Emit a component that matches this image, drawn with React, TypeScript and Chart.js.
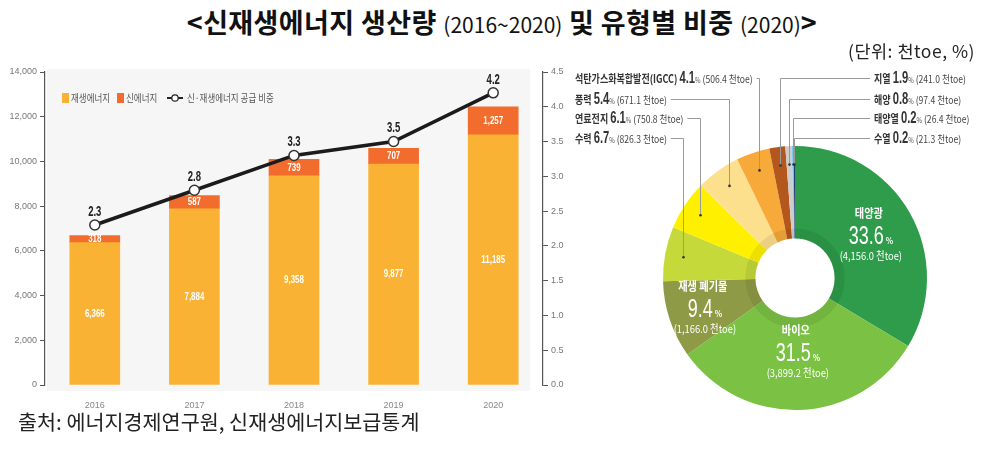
import React, { useEffect, useRef } from 'react';
import { Chart, registerables } from 'chart.js';

Chart.register(...registerables);

// ---------- data ----------
const years = ['2016', '2017', '2018', '2019', '2020'];
const renewable = [6366, 7884, 9358, 9877, 11185];
const newEnergy = [318, 587, 739, 707, 1257];
const shareRatio = [2.3, 2.8, 3.3, 3.5, 4.2];

const typeNames = ['태양광', '바이오', '재생 폐기물', '수력', '연료전지', '풍력', '석탄가스화복합발전(IGCC)', '지열', '해양', '태양열', '수열'];
const typeValues = [4156.0, 3899.2, 1166.0, 826.3, 750.8, 671.1, 506.4, 241.0, 97.4, 26.4, 21.3];
const typePercents = [33.6, 31.5, 9.4, 6.7, 6.1, 5.4, 4.1, 1.9, 0.8, 0.2, 0.2];

// ---------- styles ----------
const typeColors = ['#2E9C4A', '#7BC244', '#8E9A45', '#C6D93B', '#FFF000', '#FDE08D', '#F7A93A', '#B4571D', '#CDCDCD', '#7CC8EA', '#1F3F73'];
const NUM = "'Liberation Sans', Arial, sans-serif";
const KR = "'Noto Sans CJK KR', 'Noto Sans', sans-serif";
const C_RENEW = '#F9B233';
const C_NEW = '#F26C2D';

const fmt0 = (v: number) => v.toLocaleString('en-US');
const fmt1 = (v: number) => v.toLocaleString('en-US', { minimumFractionDigits: 1, maximumFractionDigits: 1 });

// draw horizontally condensed text; returns drawn width
function cText(ctx: any, text: string, x: number, y: number, font: string, sx: number, align: string) {
  ctx.font = font;
  const w = ctx.measureText(text).width * sx;
  let left = x;
  if (align === 'center') left = x - w / 2;
  else if (align === 'right') left = x - w;
  ctx.save();
  ctx.translate(left, y);
  ctx.scale(sx, 1);
  ctx.textAlign = 'left';
  ctx.fillText(text, 0, 0);
  ctx.restore();
  return w;
}
function cWidth(ctx: any, text: string, font: string, sx: number) {
  ctx.font = font;
  return ctx.measureText(text).width * sx;
}

const barPlugin = {
  id: 'barDecor',
  beforeDraw(chart: any) {
    const { ctx, chartArea: a } = chart;
    ctx.save();
    ctx.fillStyle = '#f6f6f6';
    ctx.fillRect(a.left + 2, a.top - 3, a.right - 13 - (a.left + 2), a.bottom + 6 - (a.top - 3));
    ctx.restore();
  },
  afterDatasetsDraw(chart: any) {
    const ctx = chart.ctx;
    const m0 = chart.getDatasetMeta(0);
    const m1 = chart.getDatasetMeta(1);
    const m2 = chart.getDatasetMeta(2);
    ctx.save();
    ctx.textBaseline = 'middle';
    ctx.fillStyle = '#ffffff';
    m0.data.forEach((el: any, i: number) => {
      cText(ctx, fmt0(renewable[i]), el.x, (el.y + el.base) / 2, `bold 11px ${NUM}`, 0.72, 'center');
    });
    m1.data.forEach((el: any, i: number) => {
      cText(ctx, fmt0(newEnergy[i]), el.x, (el.y + el.base) / 2, `bold 11px ${NUM}`, 0.72, 'center');
    });
    ctx.fillStyle = '#222';
    ctx.textBaseline = 'bottom';
    m2.data.forEach((el: any, i: number) => {
      cText(ctx, shareRatio[i].toFixed(1), el.x, el.y - 6, `bold 14px ${NUM}`, 0.68, 'center');
    });
    ctx.restore();
  },
  afterDraw(chart: any) {
    const ctx = chart.ctx;
    const y = 98;
    ctx.save();
    ctx.textBaseline = 'middle';
    const f = `10px ${KR}`;
    const sx = 0.85;
    ctx.fillStyle = C_RENEW;
    ctx.fillRect(62, y - 5, 7, 10);
    ctx.fillStyle = '#555';
    cText(ctx, chart.data.datasets[0].label, 71, y, f, sx, 'left');
    ctx.fillStyle = C_NEW;
    ctx.fillRect(117, y - 5, 7, 10);
    ctx.fillStyle = '#555';
    cText(ctx, chart.data.datasets[1].label, 126, y, f, sx, 'left');
    ctx.strokeStyle = '#222';
    ctx.lineWidth = 2;
    ctx.beginPath();
    ctx.moveTo(167, y);
    ctx.lineTo(183, y);
    ctx.stroke();
    ctx.beginPath();
    ctx.arc(175, y, 3.2, 0, Math.PI * 2);
    ctx.fillStyle = '#fff';
    ctx.fill();
    ctx.lineWidth = 1.2;
    ctx.stroke();
    ctx.fillStyle = '#555';
    cText(ctx, chart.data.datasets[2].label, 187, y, f, sx, 'left');
    ctx.restore();
  },
};

// label placement config (canvas coords of donut canvas)
const innerLabelRadius: Record<number, number> = { 0: 0.66, 1: 0.56, 2: 0.72 };
const callouts = [
  { i: 6, side: 'left', y: 18 },
  { i: 5, side: 'left', y: 39 },
  { i: 4, side: 'left', y: 58 },
  { i: 3, side: 'left', y: 78 },
  { i: 7, side: 'right', y: 18 },
  { i: 8, side: 'right', y: 39 },
  { i: 9, side: 'right', y: 58 },
  { i: 10, side: 'right', y: 78 },
];

const donutPlugin = {
  id: 'donutDecor',
  afterDatasetsDraw(chart: any) {
    const ctx = chart.ctx;
    const arcs = chart.getDatasetMeta(0).data;
    const a0: any = arcs[0];
    const cx = a0.x, cy = a0.y, R = a0.outerRadius, r = a0.innerRadius;
    ctx.save();
    // inner shade ring
    ctx.beginPath();
    ctx.arc(cx, cy, r + 5, 0, Math.PI * 2);
    ctx.lineWidth = 10;
    ctx.strokeStyle = 'rgba(0,0,0,0.07)';
    ctx.stroke();

    // inner labels
    Object.keys(innerLabelRadius).forEach((k) => {
      const i = Number(k);
      const arc: any = arcs[i];
      const mid = (arc.startAngle + arc.endAngle) / 2;
      const rr = innerLabelRadius[i] * R;
      const x = cx + Math.cos(mid) * rr;
      const y = cy + Math.sin(mid) * rr;
      ctx.fillStyle = '#fff';
      ctx.textBaseline = 'alphabetic';
      cText(ctx, typeNames[i], x - 2, y - 17, `bold 12px ${KR}`, 0.85, 'center');
      const big = typePercents[i].toFixed(1);
      const fb = `25px ${NUM}`;
      const fp = `bold 9px ${KR}`;
      const wb = cWidth(ctx, big, fb, 0.72);
      const wp = cWidth(ctx, '%', fp, 0.85);
      const sx = x - (wb + wp + 2) / 2;
      cText(ctx, big, sx, y + 9, fb, 0.72, 'left');
      cText(ctx, '%', sx + wb + 2, y + 9, fp, 0.85, 'left');
      cText(ctx, `(${fmt1(typeValues[i])} 천toe)`, x, y + 25, `11px ${KR}`, 0.85, 'center');
    });

    // callouts
    callouts.forEach((c) => {
      const arc: any = arcs[c.i];
      const mid = (arc.startAngle + arc.endAngle) / 2;
      const dx = cx + Math.cos(mid) * R * 0.86;
      const dy = cy + Math.sin(mid) * R * 0.86;
      const runs = [
        { t: typeNames[c.i] + ' ', f: `bold 11px ${KR}`, col: '#333', s: 0.82 },
        { t: typePercents[c.i].toFixed(1), f: `bold 17px ${NUM}`, col: '#333', s: 0.66 },
        { t: '%', f: `7px ${KR}`, col: '#555', s: 0.85 },
        { t: ` (${fmt1(typeValues[c.i])} 천toe)`, f: `10px ${KR}`, col: '#444', s: 0.86 },
      ];
      let total = 0;
      runs.forEach((rn) => { total += cWidth(ctx, rn.t, rn.f, rn.s); });
      const startX = c.side === 'left' ? 15 : 314;
      let x = startX;
      ctx.textBaseline = 'alphabetic';
      runs.forEach((rn) => {
        ctx.fillStyle = rn.col;
        x += cText(ctx, rn.t, x, c.y + 5, rn.f, rn.s, 'left');
      });
      ctx.strokeStyle = '#9a9a9a';
      ctx.lineWidth = 1;
      ctx.beginPath();
      if (c.side === 'left') {
        ctx.moveTo(startX + total + 4, c.y + 0.5);
      } else {
        ctx.moveTo(startX - 4, c.y + 0.5);
      }
      ctx.lineTo(Math.round(dx) + 0.5, c.y + 0.5);
      ctx.lineTo(Math.round(dx) + 0.5, dy);
      ctx.stroke();
      ctx.beginPath();
      ctx.arc(Math.round(dx) + 0.5, dy, 1.3, 0, Math.PI * 2);
      ctx.fillStyle = '#333';
      ctx.fill();
    });
    ctx.restore();
  },
};

function BarLine() {
  const ref = useRef<HTMLCanvasElement | null>(null);
  useEffect(() => {
    if (!ref.current) return;
    const chart = new Chart(ref.current, {
      type: 'bar',
      data: {
        labels: years,
        datasets: [
          { type: 'bar', label: '재생에너지', data: renewable, backgroundColor: C_RENEW, yAxisID: 'y', barThickness: 50, order: 2 } as any,
          { type: 'bar', label: '신에너지', data: newEnergy, backgroundColor: C_NEW, yAxisID: 'y', barThickness: 50, order: 2 } as any,
          {
            type: 'line', label: '신·재생에너지 공급 비중', data: shareRatio, yAxisID: 'y1', order: 1,
            borderColor: '#1b1b1b', borderWidth: 3.5, pointRadius: 5, pointBackgroundColor: '#fff',
            pointBorderColor: '#333', pointBorderWidth: 1.5, tension: 0,
          } as any,
        ],
      },
      options: {
        animation: false,
        responsive: false,
        layout: { padding: { top: 72, left: 0, right: 0, bottom: 0 } },
        plugins: { legend: { display: false }, tooltip: { enabled: false } },
        scales: {
          x: {
            stacked: true,
            grid: { display: false },
            border: { display: false },
            ticks: { color: '#888', font: { family: NUM, size: 9 }, padding: 7 },
            afterFit(s: any) { s.height = 35; },
          },
          y: {
            stacked: true,
            min: 0,
            max: 14000,
            position: 'left',
            ticks: { stepSize: 2000, color: '#777', font: { family: NUM, size: 9 }, padding: 3, callback: (v: any) => fmt0(Number(v)) },
            grid: { drawOnChartArea: false, drawTicks: true, tickLength: 5, color: '#555' },
            border: { display: true, color: '#555', width: 1.2 },
            afterFit(s: any) { s.width = 45; },
          },
          y1: {
            min: 0,
            max: 4.5,
            position: 'right',
            ticks: { stepSize: 0.5, color: '#777', font: { family: NUM, size: 9 }, padding: 3, callback: (v: any) => Number(v).toFixed(1) },
            grid: { drawOnChartArea: false, drawTicks: true, tickLength: 5, color: '#555' },
            border: { display: true, color: '#555', width: 1.2 },
            afterFit(s: any) { s.width = 37; },
          },
        },
      },
      plugins: [barPlugin],
    } as any);
    return () => chart.destroy();
  }, []);
  return <canvas ref={ref} width={580} height={420} style={{ position: 'absolute', left: 0, top: 0, width: 580, height: 420 }} />;
}

function Donut() {
  const ref = useRef<HTMLCanvasElement | null>(null);
  useEffect(() => {
    if (!ref.current) return;
    const chart = new Chart(ref.current, {
      type: 'doughnut',
      data: {
        labels: typeNames,
        datasets: [{ data: typeValues, backgroundColor: typeColors, borderWidth: 0 }],
      },
      options: {
        animation: false,
        responsive: false,
        cutout: '30%',
        layout: { padding: { left: 103, top: 86, right: 73, bottom: 20 } },
        plugins: { legend: { display: false }, tooltip: { enabled: false } },
      },
      plugins: [donutPlugin],
    } as any);
    return () => chart.destroy();
  }, []);
  return <canvas ref={ref} width={440} height={370} style={{ position: 'absolute', left: 560, top: 60, width: 440, height: 370 }} />;
}

export default function App() {
  return (
    <div style={{ position: 'absolute', left: 0, top: 0, width: 1004, height: 450, background: '#fff', overflow: 'hidden' }}>
      <div style={{ position: 'absolute', left: 0, top: 8, width: 1004, textAlign: 'center', fontFamily: KR, fontSize: 27, fontWeight: 700, lineHeight: 1, letterSpacing: 0.4, color: '#111', whiteSpace: 'nowrap' }}>
        {'<신재생에너지 생산량 '}
        <span style={{ fontFamily: KR, fontSize: 21, fontWeight: 400, letterSpacing: 0 }}>(2016~2020)</span>
        {' 및 유형별 비중 '}
        <span style={{ fontFamily: KR, fontSize: 21, fontWeight: 400, letterSpacing: 0 }}>(2020)</span>
        {'>'}
      </div>
      <BarLine />
      <Donut />
      <div style={{ position: 'absolute', left: 848, top: 42, fontFamily: KR, fontSize: 17.5, lineHeight: 1, letterSpacing: 0.5, color: '#222', whiteSpace: 'nowrap' }}>
        (단위: 천toe, %)
      </div>
      <div style={{ position: 'absolute', left: 18, top: 411, fontFamily: KR, fontSize: 20.7, lineHeight: 1, color: '#222', whiteSpace: 'nowrap' }}>
        출처: 에너지경제연구원, 신재생에너지보급통계
      </div>
    </div>
  );
}
